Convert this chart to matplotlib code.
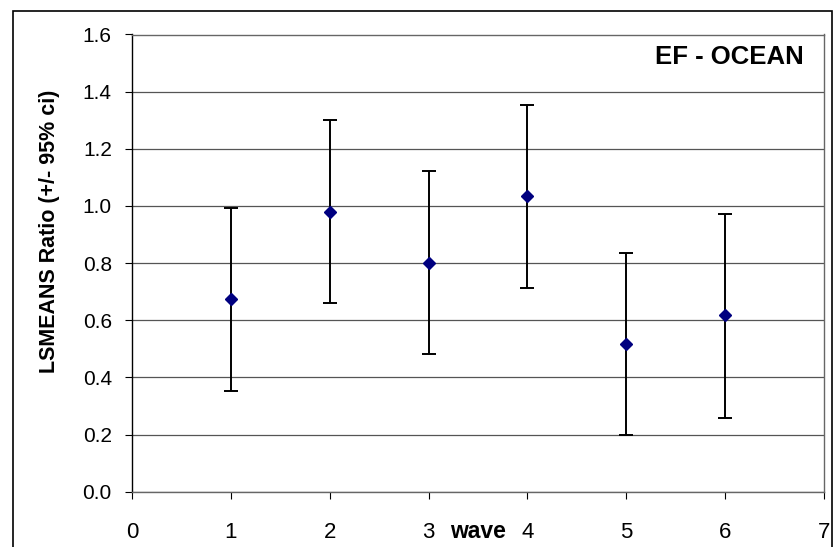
import matplotlib
matplotlib.use("Agg")
import matplotlib.pyplot as plt
from matplotlib.patches import Rectangle

plt.rcParams['font.family'] = ['Liberation Sans', 'DejaVu Sans']

# LSMEANS ratio per wave with 95% confidence limits
waves = [1, 2, 3, 4, 5, 6]
ratio = [0.673, 0.979, 0.802, 1.034, 0.516, 0.618]
ci_low = [0.353, 0.659, 0.483, 0.713, 0.197, 0.257]
ci_high = [0.993, 1.300, 1.121, 1.355, 0.837, 0.972]

yerr = [[r - lo for r, lo in zip(ratio, ci_low)],
        [hi - r for r, hi in zip(ratio, ci_high)]]

fig = plt.figure(figsize=(8.34, 5.47), dpi=100)
ax = fig.add_axes([132 / 834, 1 - 491.7 / 547, (824 - 132) / 834, (491.7 - 34.5) / 547])

ax.errorbar(waves, ratio, yerr=yerr, fmt='none', ecolor='black',
            elinewidth=1.4, capsize=5, capthick=1.4, zorder=3)
ax.plot(waves, ratio, linestyle='none', marker='D', markersize=6.3,
        color='#000080', zorder=4)

ax.set_xlim(0, 7)
ax.set_ylim(0, 1.6)
ax.set_xticks(range(0, 8))
ax.set_yticks([i * 0.2 for i in range(9)])
ax.set_yticklabels([f"{i * 0.2:.1f}" for i in range(9)])

ax.yaxis.grid(True, color='#555555', linewidth=0.9)
ax.set_axisbelow(True)

ax.tick_params(axis='both', direction='out', length=5, width=0.8, color='#555555')
ax.tick_params(axis='y', labelsize=15, pad=9.5, colors='black')
ax.tick_params(axis='x', labelsize=16, pad=17, colors='black')

ax.spines['left'].set_color('black')
ax.spines['left'].set_linewidth(1.0)
for side in ('bottom', 'right', 'top'):
    ax.spines[side].set_color('#666666')
    ax.spines[side].set_linewidth(1.0)

ax.set_ylabel("LSMEANS Ratio (+/- 95% ci)", fontsize=15.5, fontweight='bold', labelpad=16)
ax.yaxis.label.set_y(0.569)
ax.set_xlabel("wave", fontsize=16.5, fontweight='bold', labelpad=-17)

ax.text(0.971, 0.951, "EF - OCEAN", transform=ax.transAxes, ha='right', va='center',
        fontsize=18.5, fontweight='bold')

# chart area border
fig.patches.append(Rectangle((13 / 834, -0.05), (832 - 13) / 834, 1 - 11 / 547 + 0.05,
                             transform=fig.transFigure, fill=False,
                             edgecolor='black', linewidth=1.2))

fig.savefig("out.png", dpi=100)
